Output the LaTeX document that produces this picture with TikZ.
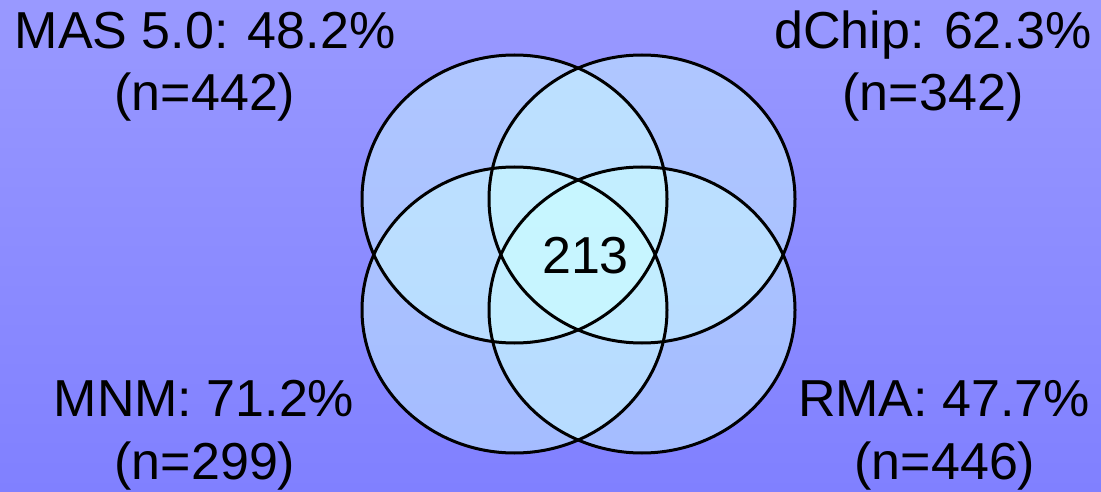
\documentclass[tikz,border=0pt]{standalone}
\usepackage{fontspec}
\setmainfont{Liberation Sans}
\definecolor{bgtop}{RGB}{153,153,255}
\definecolor{bgbot}{RGB}{128,128,255}
\definecolor{setfill}{RGB}{205,255,255}
\tikzset{
  setfillstyle/.style={fill=setfill, fill opacity=0.47},
  setline/.style={draw=black, line width=3pt},
  lbl/.style={anchor=base, inner sep=0pt, font=\fontsize{52}{62}\selectfont, text=black},
}
\begin{document}
\begin{tikzpicture}[x=1pt,y=-1pt]
\shade[top color=bgtop, bottom color=bgbot] (0,0) rectangle (1101,492);
\useasboundingbox (0,0) rectangle (1101,492);
% fills
\fill[setfillstyle] (514.5,199) ellipse [x radius=152.5, y radius=144];
\fill[setfillstyle] (642,199) ellipse [x radius=153, y radius=144];
\fill[setfillstyle] (514.5,310) ellipse [x radius=152.5, y radius=143];
\fill[setfillstyle] (642,310) ellipse [x radius=153, y radius=143];
% outlines
\draw[setline] (514.5,199) ellipse [x radius=152.5, y radius=144];
\draw[setline] (642,199) ellipse [x radius=153, y radius=144];
\draw[setline] (514.5,310) ellipse [x radius=152.5, y radius=143];
\draw[setline] (642,310) ellipse [x radius=153, y radius=143];
% labels
\node[lbl] (mas1) at (205,49) {MAS 5.0: 48.2\%};
\node[lbl] (mas2) at (205,111) {(n=442)};
\node[lbl] (dc1) at (933,49) {dChip: 62.3\%};
\node[lbl] (dc2) at (933,111) {(n=342)};
\node[lbl] (mnm1) at (204,416) {MNM: 71.2\%};
\node[lbl] (mnm2) at (205,479) {(n=299)};
\node[lbl] (rma1) at (944,416) {RMA: 47.7\%};
\node[lbl] (rma2) at (945,479) {(n=446)};
\node[lbl] (center) at (585.5,273) {213};
\end{tikzpicture}
\end{document}
